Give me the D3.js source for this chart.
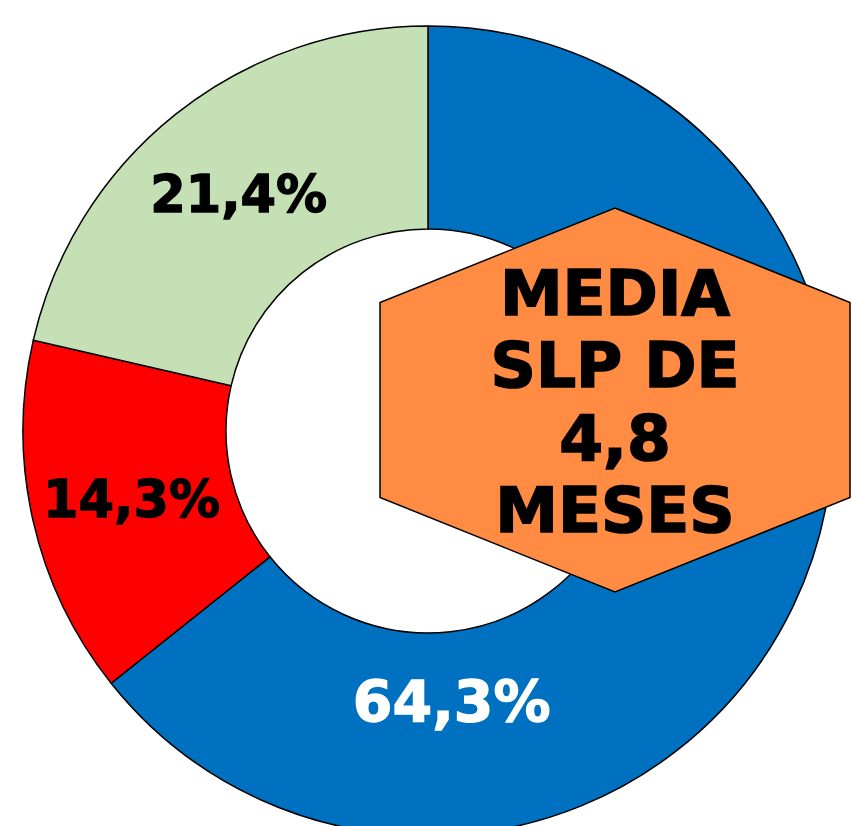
<!DOCTYPE html>
<html>
<head>
<meta charset="utf-8">
<script src="https://cdn.jsdelivr.net/npm/d3@7"></script>
<style>
  html, body { margin: 0; padding: 0; background: #fff; overflow: hidden; }
  text { font-family: Verdana, "DejaVu Sans", sans-serif; font-weight: bold; }
</style>
</head>
<body>
<div id="chart"></div>
<script>
// Data
const categories = ["A", "B", "C"];
const values = [64.3, 14.3, 21.4];
const labels = ["64,3%", "14,3%", "21,4%"];
const colors = ["#0070C0", "#FF0000", "#C5E0B4"];
const labelColors = ["#fff", "#000", "#000"];
const calloutLines = ["MEDIA", "SLP DE", "4,8", "MESES"];

const width = 852, height = 826;
const cx = 428, cy = 431;
const outerR = 405, innerR = 202;

const svg = d3.select("#chart")
    .append("svg")
    .attr("width", width)
    .attr("height", height);

const g = svg.append("g").attr("transform", `translate(${cx},${cy})`);

const pie = d3.pie().sort(null).value(d => d);
const arcs = pie(values);

const arc = d3.arc().innerRadius(innerR).outerRadius(outerR);
const labelArc = d3.arc().innerRadius(304).outerRadius(304);

g.selectAll("path")
    .data(arcs)
    .enter()
    .append("path")
    .attr("d", arc)
    .attr("fill", (d, i) => colors[i])
    .attr("stroke", "#000")
    .attr("stroke-width", 1.5);

// the big slice label is pushed down below the callout box
function labelPos(d, i) {
    if (i === 0) {
        const a = 175 * Math.PI / 180, r = 272;
        return [r * Math.sin(a), -r * Math.cos(a)];
    }
    return labelArc.centroid(d);
}

g.selectAll("text.lbl")
    .data(arcs)
    .enter()
    .append("text")
    .attr("class", "lbl")
    .attr("transform", (d, i) => `translate(${labelPos(d, i)})`)
    .attr("text-anchor", "middle")
    .attr("dy", "0.36em")
    .style("font-size", (d, i) => i === 0 ? "57px" : "51px")
    .attr("fill", (d, i) => labelColors[i])
    .attr("stroke", (d, i) => labelColors[i])
    .attr("stroke-width", 1.3)
    .text((d, i) => labels[i]);

// Hexagon callout
const hx = 615, hy = 400, hw = 235, hh = 192, hs = 97.5;
const hexPts = [
    [hx, hy - hh], [hx + hw, hy - hs], [hx + hw, hy + hs],
    [hx, hy + hh], [hx - hw, hy + hs], [hx - hw, hy - hs]
];
svg.append("polygon")
    .attr("points", hexPts.map(p => p.join(",")).join(" "))
    .attr("fill", "#FF8C42")
    .attr("stroke", "#000")
    .attr("stroke-width", 1.5);

svg.append("g")
    .selectAll("text")
    .data(calloutLines)
    .enter()
    .append("text")
    .attr("x", hx)
    .attr("y", (d, i) => 315 + i * 72.3)
    .attr("text-anchor", "middle")
    .style("font-size", "63px")
    .attr("fill", "#000")
    .attr("stroke", "#000")
    .attr("stroke-width", 1.6)
    .text(d => d);
</script>
</body>
</html>
